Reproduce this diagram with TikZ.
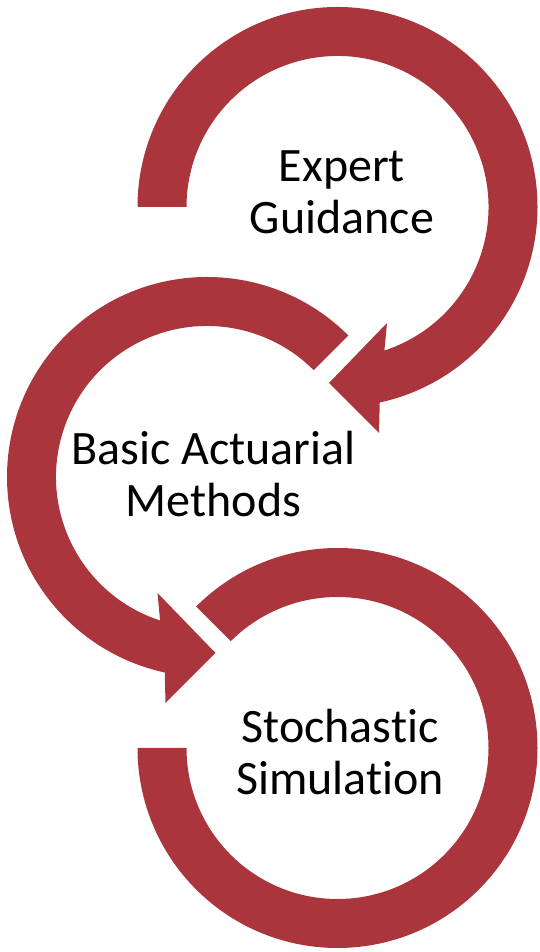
\documentclass[tikz,border=0pt]{standalone}
\usepackage{fontspec}
\setmainfont{Carlito}[Ligatures=NoCommon]
\usetikzlibrary{calc}
\definecolor{ringred}{RGB}{170,53,60}
\begin{document}
\begin{tikzpicture}[x=1pt, y=1pt,
  band/.style={fill=ringred, draw=none},
  steptext/.style={align=center, anchor=base, inner sep=0pt,
    font=\fontsize{48}{52}\selectfont}]
    \useasboundingbox (0, 0) rectangle (539, 952);

    % Ring centres
    \path (337.5, 745) coordinate (c1);
    \path (207, 475) coordinate (c2);
    \path (337.5, 204) coordinate (c3);

    % Top ring with arrow head
    \path [band] ($(c1)+(180:200)$) arc [start angle=180, end angle=-77.8, radius=200]
      -- (379, 519) -- (329, 569) -- (387, 629)
      -- ($(c1)+(-71.9:151)$) arc [start angle=-71.9, end angle=180, radius=151] -- cycle;

    % Middle ring with arrow head
    \path [band] ($(c2)+(45:200)$) arc [start angle=45, end angle=257.8, radius=200]
      -- (165.5, 249) -- (215.5, 299) -- (157.5, 359)
      -- ($(c2)+(251.9:151)$) arc [start angle=251.9, end angle=45, radius=151] -- cycle;

    % Bottom ring
    \path [band] ($(c3)+(135:200)$) arc [start angle=135, end angle=-180, radius=200]
      -- ($(c3)+(180:151)$) arc [start angle=-180, end angle=135, radius=151] -- cycle;

    % Step texts
    \node [steptext] (expert) at (342, 718) {Expert\\Guidance};
    \node [steptext] (basic) at (213.5, 435) {Basic Actuarial\\Methods};
    \node [steptext] (stoch) at (340, 157) {Stochastic\\Simulation};
  \end{tikzpicture}
\end{document}
